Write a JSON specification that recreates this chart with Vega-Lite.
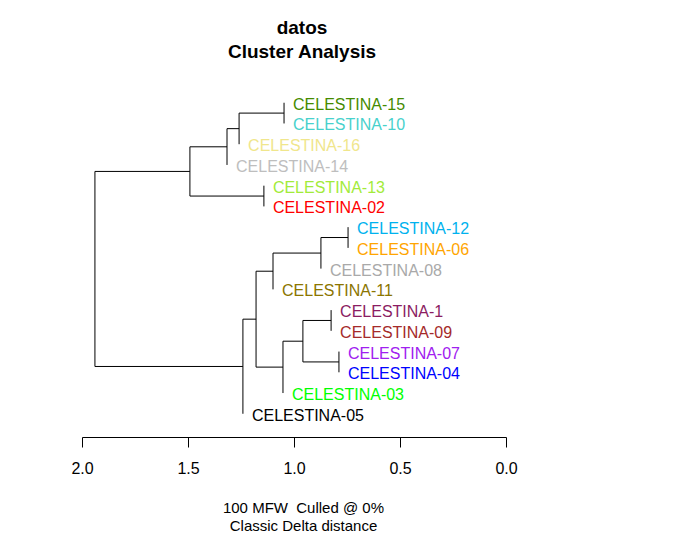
{
  "$schema": "https://vega.github.io/schema/vega-lite/v6.json",
  "width": 424,
  "height": 355,
  "autosize": {"type": "none"},
  "padding": {"left": 82, "top": 82, "right": 172, "bottom": 98},
  "background": "white",
  "config": {"view": {"stroke": null}, "font": "Liberation Sans"},
  "title": {
    "text": ["datos", "Cluster Analysis"],
    "fontSize": 19,
    "fontWeight": "bold",
    "font": "Liberation Sans",
    "anchor": "middle",
    "frame": "group",
    "dx": 8,
    "offset": 20,
    "lineHeight": 24,
    "color": "black"
  },
  "layer": [
    {
      "data": {
        "values": [
          {"x": 1.939, "x2": 1.939, "y": 4.3125, "y2": 13.71875},
          {"x": 1.491, "x2": 1.491, "y": 3.125, "y2": 5.5},
          {"x": 1.316, "x2": 1.316, "y": 2.25, "y2": 4},
          {"x": 1.259, "x2": 1.259, "y": 1.5, "y2": 3},
          {"x": 1.047, "x2": 1.047, "y": 1, "y2": 2},
          {"x": 1.142, "x2": 1.142, "y": 5, "y2": 6},
          {"x": 1.241, "x2": 1.241, "y": 11.4375, "y2": 16},
          {"x": 1.179, "x2": 1.179, "y": 9.125, "y2": 13.75},
          {"x": 1.099, "x2": 1.099, "y": 8.25, "y2": 10},
          {"x": 0.873, "x2": 0.873, "y": 7.5, "y2": 9},
          {"x": 0.745, "x2": 0.745, "y": 7, "y2": 8},
          {"x": 1.052, "x2": 1.052, "y": 12.5, "y2": 15},
          {"x": 0.958, "x2": 0.958, "y": 11.5, "y2": 13.5},
          {"x": 0.825, "x2": 0.825, "y": 11, "y2": 12},
          {"x": 0.788, "x2": 0.788, "y": 13, "y2": 14},
          {"x": 1.939, "x2": 1.491, "y": 4.3125, "y2": 4.3125},
          {"x": 1.939, "x2": 1.241, "y": 13.71875, "y2": 13.71875},
          {"x": 1.491, "x2": 1.316, "y": 3.125, "y2": 3.125},
          {"x": 1.491, "x2": 1.142, "y": 5.5, "y2": 5.5},
          {"x": 1.316, "x2": 1.259, "y": 2.25, "y2": 2.25},
          {"x": 1.259, "x2": 1.047, "y": 1.5, "y2": 1.5},
          {"x": 1.241, "x2": 1.179, "y": 11.4375, "y2": 11.4375},
          {"x": 1.179, "x2": 1.099, "y": 9.125, "y2": 9.125},
          {"x": 1.179, "x2": 1.052, "y": 13.75, "y2": 13.75},
          {"x": 1.099, "x2": 0.873, "y": 8.25, "y2": 8.25},
          {"x": 0.873, "x2": 0.745, "y": 7.5, "y2": 7.5},
          {"x": 1.052, "x2": 0.958, "y": 12.5, "y2": 12.5},
          {"x": 0.958, "x2": 0.825, "y": 11.5, "y2": 11.5},
          {"x": 0.958, "x2": 0.788, "y": 13.5, "y2": 13.5}
        ]
      },
      "mark": {"type": "rule", "color": "black", "strokeWidth": 1},
      "encoding": {
        "x": {
          "field": "x",
          "type": "quantitative",
          "scale": {"domain": [0, 2], "reverse": true, "nice": false, "zero": false},
          "axis": {
            "values": [0, 0.5, 1, 1.5, 2],
            "format": ".1f",
            "grid": false,
            "labelFontSize": 16,
            "labelColor": "black",
            "labelPadding": 13,
            "labelFlush": false,
            "tickSize": 10,
            "tickColor": "black",
            "domainColor": "black",
            "title": ["100 MFW \u00a0Culled @ 0%", "Classic Delta distance"],
            "titleFontSize": 15,
            "titleFontWeight": "normal",
            "titleColor": "black",
            "titleLineHeight": 18,
            "titleX": 221,
            "titleY": 63,
            "titleBaseline": "top"
          }
        },
        "x2": {"field": "x2"},
        "y": {
          "field": "y",
          "type": "quantitative",
          "scale": {"domain": [0, 17.12], "reverse": true, "nice": false, "zero": false},
          "axis": null
        },
        "y2": {"field": "y2"}
      }
    },
    {
      "data": {
        "values": [
          {"label": "CELESTINA-15", "x": 1.047, "y": 1, "color": "#458B00"},
          {"label": "CELESTINA-10", "x": 1.047, "y": 2, "color": "#48D1CC"},
          {"label": "CELESTINA-16", "x": 1.259, "y": 3, "color": "#F0E68C"},
          {"label": "CELESTINA-14", "x": 1.316, "y": 4, "color": "#BEBEBE"},
          {"label": "CELESTINA-13", "x": 1.142, "y": 5, "color": "#A2EB3A"},
          {"label": "CELESTINA-02", "x": 1.142, "y": 6, "color": "#FF0000"},
          {"label": "CELESTINA-12", "x": 0.745, "y": 7, "color": "#00B2EE"},
          {"label": "CELESTINA-06", "x": 0.745, "y": 8, "color": "#FFA500"},
          {"label": "CELESTINA-08", "x": 0.873, "y": 9, "color": "#A9A9A9"},
          {"label": "CELESTINA-11", "x": 1.099, "y": 10, "color": "#8B7500"},
          {"label": "CELESTINA-1", "x": 0.825, "y": 11, "color": "#8B1C62"},
          {"label": "CELESTINA-09", "x": 0.825, "y": 12, "color": "#A52A2A"},
          {"label": "CELESTINA-07", "x": 0.788, "y": 13, "color": "#A020F0"},
          {"label": "CELESTINA-04", "x": 0.788, "y": 14, "color": "#0000FF"},
          {"label": "CELESTINA-03", "x": 1.052, "y": 15, "color": "#00FF00"},
          {"label": "CELESTINA-05", "x": 1.241, "y": 16, "color": "#000000"}
        ]
      },
      "mark": {"type": "text", "align": "left", "baseline": "middle", "dx": 9, "dy": 2, "fontSize": 16, "font": "Liberation Sans"},
      "encoding": {
        "x": {"field": "x", "type": "quantitative"},
        "y": {"field": "y", "type": "quantitative"},
        "text": {"field": "label"},
        "color": {"field": "color", "type": "nominal", "scale": null}
      }
    }
  ]
}
